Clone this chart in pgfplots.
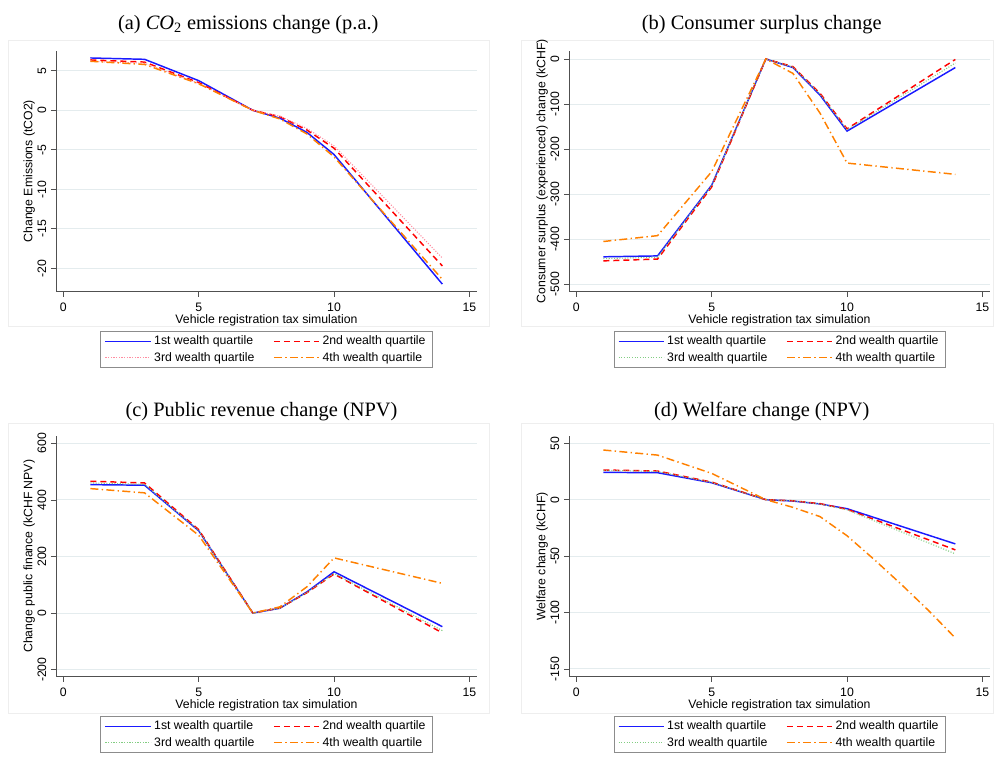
\documentclass[border=0pt]{standalone}
\usepackage{fontspec}
\setmainfont{Liberation Sans}
\newfontfamily\titlefont{Liberation Serif}
\usepackage{pgfplots}
\pgfplotsset{compat=1.18}
\definecolor{cblue}{RGB}{26,26,255}
\definecolor{cred}{RGB}{255,0,0}
\definecolor{cpink}{RGB}{255,140,160}
\definecolor{cgreen}{RGB}{130,205,130}
\definecolor{corange}{RGB}{255,128,0}
\definecolor{cgrid}{RGB}{228,236,238}
\definecolor{cframe}{RGB}{140,140,140}
\definecolor{cpanel}{RGB}{238,238,238}
\definecolor{caxis}{RGB}{80,80,80}
\newcommand{\fs}{\fontsize{9.2}{11}\selectfont}
\tikzset{
  q1/.style={draw=cblue, line width=1.1pt, solid},
  q2/.style={draw=cred, line width=1.1pt, dash pattern=on 4.5pt off 3pt},
  q3a/.style={draw=cpink, line width=0.8pt, dash pattern=on 0.8pt off 1.2pt},
  q3/.style={draw=cgreen, line width=0.8pt, dash pattern=on 0.8pt off 1.2pt},
  q4/.style={draw=corange, line width=1.1pt, dash pattern=on 6pt off 2.5pt on 1pt off 2.5pt},
}
\pgfplotsset{
  leg/.style={
    legend columns=2,
    legend style={at={(0.5,0)}, anchor=north, yshift=-29.5pt, draw=cframe,
      font=\fs, inner xsep=3pt, inner ysep=1.5pt,
      /tikz/every even column/.append style={column sep=12pt}},
    legend cell align=left,
    legend image code/.code={\draw[##1] (0pt,0pt) -- (34pt,0pt);},
  },
  myax/.style={
    scale only axis, width=315.75pt, height=180.75pt, anchor=south west,
    axis lines*=left, axis line style={-,caxis,line width=0.6pt},
    tick align=outside, tick pos=left, major tick length=3.75pt,
    tick style={caxis,line width=0.6pt},
    ymajorgrids, major grid style={cgrid,line width=0.7pt},
    xmin=-0.27, xmax=15.28,
    xtick={0,5,10,15}, xticklabels={0,5,10,15},
    tick label style={font=\fs},
    yticklabel style={rotate=90, anchor=south},
    yticklabel shift=0pt, xticklabel shift=1.5pt,
    xlabel={Vehicle registration tax simulation},
    every axis x label/.style={at={(axis description cs:0.5,-0.117)}, anchor=center, font=\fs},
    every axis y label/.style={at={(axis description cs:-0.0634,0.5)}, rotate=90, anchor=center, font=\fs},
    leg,
  },
  legax/.style={
    scale only axis, width=315.75pt, height=180.75pt, anchor=south west,
    hide axis, xmin=0, xmax=1, ymin=0, ymax=1, leg,
  },
}
\begin{document}
\begin{tikzpicture}
\useasboundingbox (0,0) rectangle (745.5pt,573pt);
% faint panel frames
\draw[cpanel,line width=0.6pt] (6pt,543pt) rectangle (366.75pt,328pt);
\draw[cpanel,line width=0.6pt] (390.75pt,543pt) rectangle (745pt,328pt);
\draw[cpanel,line width=0.6pt] (6pt,255.75pt) rectangle (366.75pt,38pt);
\draw[cpanel,line width=0.6pt] (390.75pt,255.75pt) rectangle (745pt,38pt);
% titles
\node[font=\titlefont\fontsize{15.3}{18}\selectfont] at (186.2pt,554.25pt) {(a) \textit{CO}\textsubscript{2} emissions change (p.a.)};
\node[font=\titlefont\fontsize{15.3}{18}\selectfont] at (571.3pt,554.25pt) {(b) Consumer surplus change};
\node[font=\titlefont\fontsize{15.3}{18}\selectfont] at (196.1pt,264.4pt) {(c) Public revenue change (NPV)};
\node[font=\titlefont\fontsize{15.3}{18}\selectfont] at (571.3pt,264.6pt) {(d) Welfare change (NPV)};

% (a)
\begin{axis}[myax, at={(42pt,354.225pt)},
  ymin=-22.96, ymax=7.54,
  ytick={-20,-15,-10,-5,0,5}, yticklabels={-20,-15,-10,-5,0,5},
  ylabel={Change Emissions (tCO2)}]
\addplot[q1, forget plot] coordinates {(1,6.62)(3,6.45)(5,3.75)(7,0)(8,-1.0)(9,-2.8)(10,-5.6)(14,-22.0)};
\addplot[q2, forget plot] coordinates {(1,6.37)(3,6.1)(5,3.5)(7,0)(8,-0.8)(9,-2.5)(10,-4.8)(14,-19.7)};
\addplot[q3a, forget plot] coordinates {(1,6.2)(3,5.95)(5,3.4)(7,0)(8,-0.75)(9,-2.3)(10,-4.5)(14,-18.7)};
\addplot[q4, forget plot] coordinates {(1,6.2)(3,5.8)(5,3.35)(7,0)(8,-1.1)(9,-3.0)(10,-5.9)(14,-21.4)};
\end{axis}
\begin{axis}[legax, at={(42pt,354.225pt)}]
\addlegendimage{q1}\addlegendentry{1st wealth quartile}
\addlegendimage{q2}\addlegendentry{2nd wealth quartile}
\addlegendimage{q3a}\addlegendentry{3rd wealth quartile}
\addlegendimage{q4}\addlegendentry{4th wealth quartile}
\end{axis}

% (b)
\begin{axis}[myax, at={(426.75pt,354.225pt)},
  ymin=-516.4, ymax=18.4,
  ytick={-500,-400,-300,-200,-100,0}, yticklabels={-500,-400,-300,-200,-100,0},
  ylabel={Consumer surplus (experienced) change (kCHF)}]
\addplot[q1, forget plot] coordinates {(1,-439)(3,-437)(5,-280)(7,0)(8,-19)(9,-80)(10,-160)(14,-19)};
\addplot[q2, forget plot] coordinates {(1,-448)(3,-444)(5,-284)(7,0)(8,-17)(9,-76)(10,-155)(14,-1)};
\addplot[q3, forget plot] coordinates {(1,-443)(3,-440)(5,-281)(7,0)(8,-18)(9,-78)(10,-157)(14,-9)};
\addplot[q4, forget plot] coordinates {(1,-405)(3,-392)(5,-250)(7,0)(8,-32)(9,-120)(10,-231)(14,-256)};
\end{axis}
\begin{axis}[legax, at={(426.75pt,354.225pt)}]
\addlegendimage{q1}\addlegendentry{1st wealth quartile}
\addlegendimage{q2}\addlegendentry{2nd wealth quartile}
\addlegendimage{q3}\addlegendentry{3rd wealth quartile}
\addlegendimage{q4}\addlegendentry{4th wealth quartile}
\end{axis}

% (c)
\begin{axis}[myax, at={(42pt,65.475pt)},
  ymin=-225, ymax=627,
  ytick={-200,0,200,400,600}, yticklabels={-200,0,200,400,600},
  ylabel={Change public finance (kCHF NPV)}]
\addplot[q1] coordinates {(1,454)(3,452)(5,291)(7,0)(8,17)(9,75)(10,146)(14,-48)};
\addlegendentry{1st wealth quartile}
\addplot[q2] coordinates {(1,466)(3,460)(5,295)(7,0)(8,18)(9,72)(10,138)(14,-70)};
\addlegendentry{2nd wealth quartile}
\addplot[q3] coordinates {(1,460)(3,455)(5,292)(7,0)(8,17)(9,73)(10,140)(14,-62)};
\addlegendentry{3rd wealth quartile}
\addplot[q4] coordinates {(1,440)(3,425)(5,275)(7,0)(8,22)(9,93)(10,195)(14,105)};
\addlegendentry{4th wealth quartile}
\end{axis}

% (d)
\begin{axis}[myax, at={(426.75pt,65.475pt)},
  ymin=-156.9, ymax=56.7,
  ytick={-150,-100,-50,0,50}, yticklabels={-150,-100,-50,0,50},
  ylabel={Welfare change (kCHF)}]
\addplot[q1] coordinates {(1,24.2)(3,23.9)(5,15)(7,0)(8,-1.2)(9,-3.8)(10,-8)(14,-39.2)};
\addlegendentry{1st wealth quartile}
\addplot[q2] coordinates {(1,26.3)(3,25.4)(5,15.6)(7,0)(8,-1)(9,-3.5)(10,-8.5)(14,-44.5)};
\addlegendentry{2nd wealth quartile}
\addplot[q3] coordinates {(1,26)(3,25)(5,15.3)(7,0)(8,-1)(9,-3.8)(10,-9)(14,-48)};
\addlegendentry{3rd wealth quartile}
\addplot[q4] coordinates {(1,44)(3,39.5)(5,23.3)(7,0)(8,-6.8)(9,-15)(10,-32)(11,-53)(12,-75)(13,-98)(14,-122.6)};
\addlegendentry{4th wealth quartile}
\end{axis}
\end{tikzpicture}
\end{document}
